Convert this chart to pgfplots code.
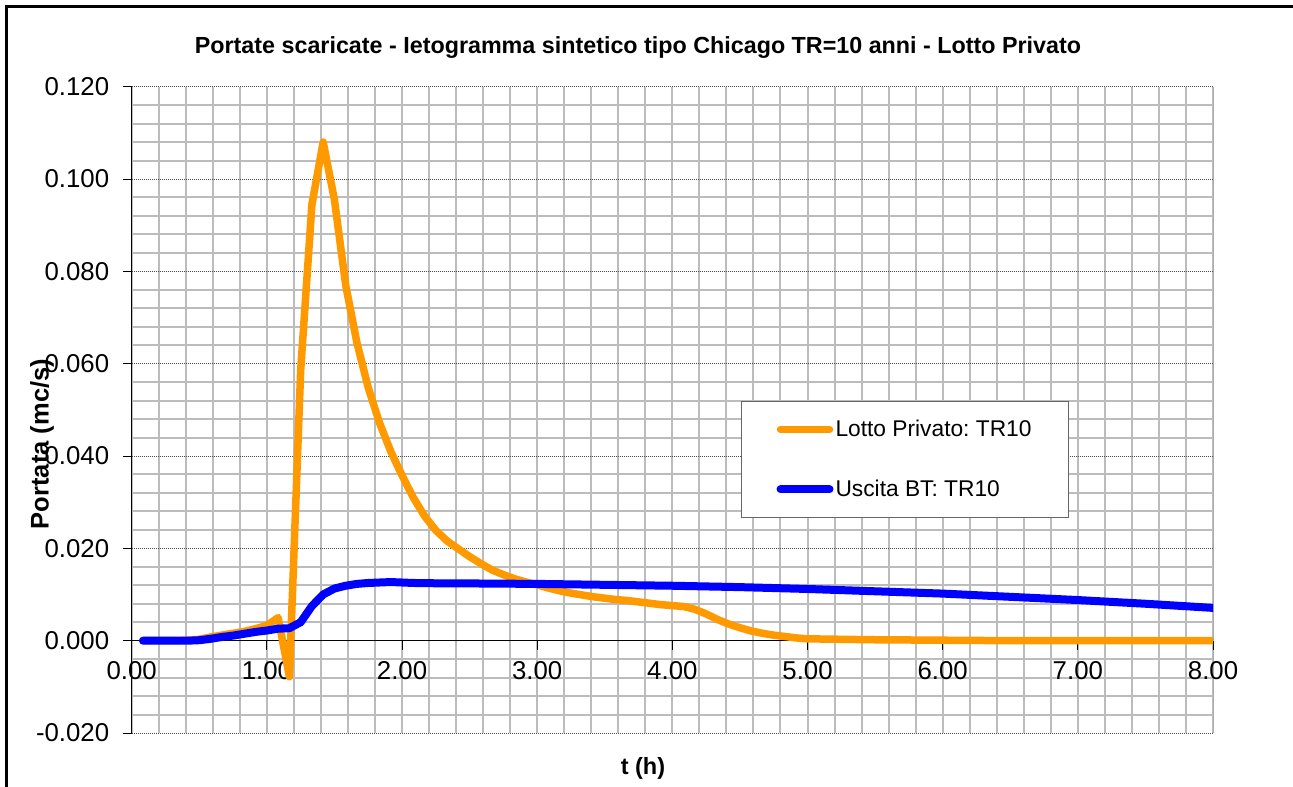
\documentclass[border=0pt]{standalone}
\usepackage{fontspec}
\setmainfont{Liberation Sans}
\usepackage{pgfplots}
\pgfplotsset{compat=1.18}

\definecolor{lotto}{RGB}{255,153,0}
\definecolor{uscita}{RGB}{0,0,255}
\definecolor{gridminor}{RGB}{188,188,188}

\frenchspacing
\begin{document}
\begin{tikzpicture}
\useasboundingbox (0pt,0pt) rectangle (1293pt,-787pt);
\clip (0pt,0pt) rectangle (1293pt,-787pt);
% outer chart frame
\draw[black, line width=2.6pt] (6.3pt,-6.3pt) rectangle (1400pt,-900pt);

\begin{axis}[
  scale only axis,
  width=1081.3pt, height=646.3pt,
  at={(131.7pt,-733pt)}, anchor=south west,
  xmin=0, xmax=8, ymin=-0.02, ymax=0.12,
  axis x line*=middle, axis y line*=left,
  axis line style={black, line width=1pt},
  hide obscured x ticks=false, hide obscured y ticks=false,
  xtick={0,1,2,3,4,5,6,7,8},
  ytick={-0.02,0,0.02,0.04,0.06,0.08,0.1,0.12},
  minor x tick num=4, minor y tick num=4,
  grid=both,
  minor grid style={gridminor, line width=2pt},
  major x grid style={gridminor, line width=2pt},
  major y grid style={black!70, line width=1pt, dash pattern=on 1pt off 1pt},
  tick align=outside,
  major tick length=9pt, minor tick length=0pt,
  tick style={black, line width=1pt},
  ticklabel style={font=\fontsize{25.8}{30}\selectfont},
  xticklabel style={yshift=-8pt},
  yticklabel style={xshift=-10pt},
  /pgf/number format/assume math mode=true,
  xticklabel={\pgfmathprintnumber[fixed, fixed zerofill, precision=2]{\tick}},
  yticklabel={\pgfmathprintnumber[fixed, fixed zerofill, precision=3]{\tick}},
  scaled y ticks=false,
  legend style={
    at={(0.5635,0.5137)}, anchor=north west,
    draw=black!60, line width=1pt, fill=white,
    inner xsep=35pt, inner ysep=17pt, row sep=38pt,
    font=\fontsize{22.75}{27}\selectfont,
    nodes={inner sep=2pt},
  },
  legend cell align=left,
  legend image code/.code={\draw[#1, line cap=round] (0pt,0pt) -- (49pt,0pt);},
  every axis plot/.append style={line join=round, line cap=round},
]

% discharge from the private lot
\addplot[lotto, line width=7.5pt] table {
t Q
0.0833 0
0.1667 0
0.2500 0
0.3333 0
0.4167 0.0001
0.5000 0.0003
0.5833 0.0008
0.6667 0.0012
0.7500 0.0016
0.8333 0.0020
0.9167 0.0026
1.0000 0.0033
1.0833 0.0050
1.1667 -0.0078
1.2500 0.0585
1.3333 0.0945
1.4167 0.1080
1.5000 0.0955
1.5833 0.0770
1.6667 0.0645
1.7500 0.0548
1.8333 0.0472
1.9167 0.0410
2.0000 0.0358
2.0833 0.0310
2.1667 0.0270
2.2500 0.0239
2.3333 0.0216
2.4167 0.0199
2.5000 0.0182
2.5833 0.0167
2.6667 0.0153
2.7500 0.0143
2.8333 0.0134
2.9167 0.0127
3.0000 0.0121
3.0833 0.0114
3.1667 0.0108
3.2500 0.0103
3.3333 0.0099
3.4167 0.0095
3.5000 0.0092
3.5833 0.0089
3.6667 0.0087
3.7500 0.0084
3.8333 0.0081
3.9167 0.0078
4.0000 0.0076
4.0833 0.0074
4.1667 0.0068
4.2500 0.0058
4.3333 0.0046
4.4167 0.0036
4.5000 0.0028
4.5833 0.0021
4.6667 0.0016
4.7500 0.0012
4.8333 0.0009
4.9167 0.0006
5.0000 0.0004
5.5000 0.0002
6.0000 0.0001
6.5000 0.0000
8.0000 0.0000
};
\addlegendentry{Lotto Privato: TR10}

% outflow from the detention basin
\addplot[uscita, line width=8pt] table {
t Q
0.0833 0
0.4167 0
0.5000 0.0001
0.5833 0.0004
0.6667 0.0008
0.7500 0.0011
0.8333 0.0015
0.9167 0.0019
1.0000 0.0022
1.0833 0.0026
1.1667 0.0027
1.2500 0.0040
1.3333 0.0075
1.4167 0.0100
1.5000 0.0113
1.5833 0.0119
1.6667 0.0123
1.7500 0.0125
1.9167 0.0127
2.0833 0.0125
2.3333 0.0124
2.5000 0.0124
3.0000 0.0123
3.5000 0.0121
4.0000 0.0119
4.5000 0.0116
5.0000 0.0112
5.5000 0.0107
6.0000 0.0102
6.5000 0.0095
7.0000 0.0088
7.5000 0.0080
8.0000 0.0071
};
\addlegendentry{Uscita BT: TR10}

% right edge of the plot area
\draw[black!75, line width=1pt] (rel axis cs:1,0) -- (rel axis cs:1,1);
\end{axis}

\node[font=\bfseries\fontsize{23.3}{27}\selectfont] at (638pt,-48pt)
  {Portate scaricate - Ietogramma sintetico tipo Chicago TR=10 anni - Lotto Privato};
\node[font=\bfseries\fontsize{23.5}{27}\selectfont] at (643pt,-768pt) {t (h)};
\node[font=\bfseries\fontsize{25.5}{30}\selectfont, rotate=90] at (42pt,-444pt) {Portata (mc/s)};
\end{tikzpicture}
\end{document}
